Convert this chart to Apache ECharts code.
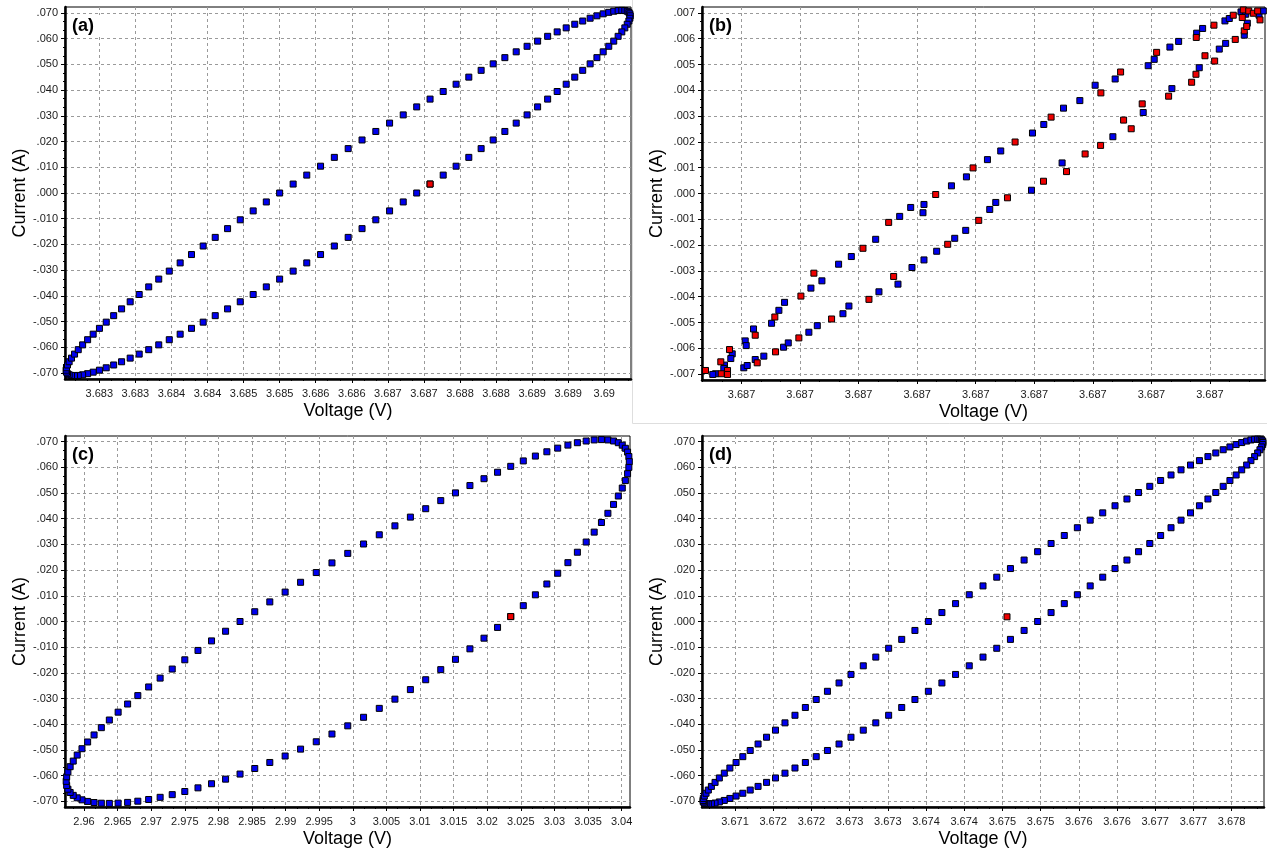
<!DOCTYPE html>
<html>
<head>
<meta charset="utf-8">
<script src="https://cdn.jsdelivr.net/npm/echarts@6/dist/echarts.min.js"></script>
<style>
  html, body { margin: 0; padding: 0; background: #fff; }
  #chart { width: 1267px; height: 852px; }
</style>
</head>
<body>
<div id="chart"></div>
<script>
// ---- tick values and their printed labels ----
const voltageTicksA = [3.6828, 3.6833, 3.6838, 3.6843, 3.6848, 3.6853, 3.6858, 3.6863, 3.6868, 3.6873, 3.6878, 3.6883, 3.6888, 3.6893, 3.6898];
const voltageLabelsA = ['3.683', '3.683', '3.684', '3.684', '3.685', '3.685', '3.686', '3.686', '3.687', '3.687', '3.688', '3.688', '3.689', '3.689', '3.69'];
const voltageTicksB = [3.68701, 3.68702, 3.68703, 3.68704, 3.68705, 3.68706, 3.68707, 3.68708, 3.68709];
const voltageLabelsB = ['3.687', '3.687', '3.687', '3.687', '3.687', '3.687', '3.687', '3.687', '3.687'];
const voltageTicksC = [2.96, 2.965, 2.97, 2.975, 2.98, 2.985, 2.99, 2.995, 3, 3.005, 3.01, 3.015, 3.02, 3.025, 3.03, 3.035, 3.04];
const voltageLabelsC = ['2.96', '2.965', '2.97', '2.975', '2.98', '2.985', '2.99', '2.995', '3', '3.005', '3.01', '3.015', '3.02', '3.025', '3.03', '3.035', '3.04'];
const voltageTicksD = [3.671, 3.6715, 3.672, 3.6725, 3.673, 3.6735, 3.674, 3.6745, 3.675, 3.6755, 3.676, 3.6765, 3.677, 3.6775];
const voltageLabelsD = ['3.671', '3.672', '3.672', '3.673', '3.673', '3.674', '3.674', '3.675', '3.675', '3.676', '3.676', '3.677', '3.677', '3.678'];
const currentTicks = [0.07, 0.06, 0.05, 0.04, 0.03, 0.02, 0.01, 0, -0.01, -0.02, -0.03, -0.04, -0.05, -0.06, -0.07];
const currentLabels = ['.070', '.060', '.050', '.040', '.030', '.020', '.010', '.000', '-.010', '-.020', '-.030', '-.040', '-.050', '-.060', '-.070'];
const currentTicksB = [0.007, 0.006, 0.005, 0.004, 0.003, 0.002, 0.001, 0, -0.001, -0.002, -0.003, -0.004, -0.005, -0.006, -0.007];
const currentLabelsB = ['.007', '.006', '.005', '.004', '.003', '.002', '.001', '.000', '-.001', '-.002', '-.003', '-.004', '-.005', '-.006', '-.007'];

// ---- (a) ----
const aVoltage = [
  3.686250, 3.686442, 3.686633, 3.686824, 3.687013, 3.687200, 3.687385, 3.687567, 3.687746, 3.687922,
  3.688093, 3.688260, 3.688422, 3.688579, 3.688730, 3.688876, 3.689015, 3.689147, 3.689272, 3.689391,
  3.689501, 3.689604, 3.689698, 3.689785, 3.689862, 3.689931, 3.689992, 3.690043, 3.690085, 3.690118,
  3.690141, 3.690155, 3.690160, 3.690155, 3.690141, 3.690118, 3.690085, 3.690043, 3.689992, 3.689931,
  3.689862, 3.689785, 3.689698, 3.689604, 3.689501, 3.689391, 3.689272, 3.689147, 3.689015, 3.688876,
  3.688730, 3.688579, 3.688422, 3.688260, 3.688093, 3.687922, 3.687746, 3.687567, 3.687385, 3.687200,
  3.687013, 3.686824, 3.686633, 3.686442, 3.686250, 3.686058, 3.685867, 3.685676, 3.685487, 3.685300,
  3.685115, 3.684933, 3.684754, 3.684578, 3.684407, 3.684240, 3.684078, 3.683921, 3.683770, 3.683624,
  3.683485, 3.683353, 3.683228, 3.683109, 3.682999, 3.682896, 3.682802, 3.682715, 3.682638, 3.682569,
  3.682508, 3.682457, 3.682415, 3.682382, 3.682359, 3.682345, 3.682340, 3.682345, 3.682359, 3.682382,
  3.682415, 3.682457, 3.682508, 3.682569, 3.682638, 3.682715, 3.682802, 3.682896, 3.682999, 3.683109,
  3.683228, 3.683353, 3.683485, 3.683624, 3.683770, 3.683921, 3.684078, 3.684240, 3.684407, 3.684578,
  3.684754, 3.684933, 3.685115, 3.685300, 3.685487, 3.685676, 3.685867, 3.686058
];
const aCurrent = [
  0.01725, 0.02061, 0.02392, 0.02717, 0.03036, 0.03347, 0.03650, 0.03945, 0.04229, 0.04504,
  0.04768, 0.05020, 0.05261, 0.05488, 0.05703, 0.05903, 0.06090, 0.06262, 0.06418, 0.06560,
  0.06685, 0.06794, 0.06887, 0.06964, 0.07023, 0.07066, 0.07091, 0.07100, 0.07091, 0.07066,
  0.07023, 0.06964, 0.06887, 0.06794, 0.06685, 0.06560, 0.06418, 0.06262, 0.06090, 0.05903,
  0.05703, 0.05488, 0.05261, 0.05020, 0.04768, 0.04504, 0.04229, 0.03945, 0.03650, 0.03347,
  0.03036, 0.02717, 0.02392, 0.02061, 0.01725, 0.01385, 0.01042, 0.00696, 0.00348, 0,
  -0.00348, -0.00696, -0.01042, -0.01385, -0.01725, -0.02061, -0.02392, -0.02717, -0.03036, -0.03347,
  -0.03650, -0.03945, -0.04229, -0.04504, -0.04768, -0.05020, -0.05261, -0.05488, -0.05703, -0.05903,
  -0.06090, -0.06262, -0.06418, -0.06560, -0.06685, -0.06794, -0.06887, -0.06964, -0.07023, -0.07066,
  -0.07091, -0.07100, -0.07091, -0.07066, -0.07023, -0.06964, -0.06887, -0.06794, -0.06685, -0.06560,
  -0.06418, -0.06262, -0.06090, -0.05903, -0.05703, -0.05488, -0.05261, -0.05020, -0.04768, -0.04504,
  -0.04229, -0.03945, -0.03650, -0.03347, -0.03036, -0.02717, -0.02392, -0.02061, -0.01725, -0.01385,
  -0.01042, -0.00696, -0.00348, 0, 0.00348, 0.00696, 0.01042, 0.01385
];
const aStart = [[3.687385, 0.00348]];

// ---- (b) ----
const bBlue = [
  [3.68702875, -0.002444], [3.68702658, -0.002741], [3.68702373, -0.003386], [3.68702185, -0.003668],
  [3.68701735, -0.004220], [3.68701638, -0.004529], [3.68701513, -0.005031], [3.68701205, -0.005251],
  [3.68701063, -0.005714], [3.68701080, -0.005896], [3.68700841, -0.006216], [3.68700817, -0.006398],
  [3.68700709, -0.006653], [3.68700697, -0.006784], [3.68700556, -0.006988], [3.68700509, -0.007015],
  [3.68701039, -0.006757], [3.68701097, -0.006668], [3.68701234, -0.006436], [3.68701381, -0.006305],
  [3.68701718, -0.005958], [3.68701798, -0.005792], [3.68702150, -0.005378], [3.68702294, -0.005124],
  [3.68702732, -0.004660], [3.68702834, -0.004363], [3.68703347, -0.003811], [3.68703672, -0.003514],
  [3.68703911, -0.002869], [3.68704116, -0.002575], [3.68703291, -0.001776], [3.68703701, -0.000888],
  [3.68703889, -0.000541], [3.68704116, -0.000425], [3.68704099, -0.000745], [3.68704585, 0.000297],
  [3.68704333, -0.002239], [3.68704641, -0.001737], [3.68704829, -0.001429], [3.68705239, -0.000618],
  [3.68705342, -0.000347], [3.68705952, 0.000127], [3.68706475, 0.001185], [3.68707342, 0.002201],
  [3.68707860, 0.003139], [3.68708350, 0.004066], [3.68708817, 0.004876], [3.68709159, 0.005598],
  [3.68709268, 0.005819], [3.68709586, 0.006139], [3.68709638, 0.006602], [3.68704841, 0.000645],
  [3.68705200, 0.001313], [3.68705427, 0.001649], [3.68705969, 0.002344], [3.68706162, 0.002676],
  [3.68706499, 0.003309], [3.68706778, 0.003602], [3.68707039, 0.004197], [3.68707381, 0.004440],
  [3.68707945, 0.004954], [3.68708048, 0.005201], [3.68708316, 0.005676], [3.68708465, 0.005896],
  [3.68708773, 0.006216], [3.68708875, 0.006398], [3.68709256, 0.006691], [3.68709330, 0.006784],
  [3.68709530, 0.007039], [3.68709610, 0.006950], [3.68709838, 0.006911], [3.68709911, 0.007077]
];
const bRed = [
  [3.68703074, -0.002124], [3.68702236, -0.003089], [3.68702014, -0.003977], [3.68701569, -0.004788],
  [3.68701234, -0.005494], [3.68700795, -0.006050], [3.68700646, -0.006525], [3.68700761, -0.006861],
  [3.68700653, -0.006988], [3.68700761, -0.007015], [3.68700385, -0.006861], [3.68701268, -0.006564],
  [3.68701581, -0.006139], [3.68701979, -0.005598], [3.68702538, -0.004865], [3.68703176, -0.004104],
  [3.68703598, -0.003216], [3.68703513, -0.001120], [3.68704316, -0.000039], [3.68704521, -0.001969],
  [3.68705051, -0.001042], [3.68705542, -0.000166], [3.68706157, 0.000475], [3.68706550, 0.000849],
  [3.68706868, 0.001533], [3.68707132, 0.001865], [3.68707655, 0.002510], [3.68707525, 0.002846],
  [3.68707843, 0.003475], [3.68708294, 0.003772], [3.68708687, 0.004313], [3.68708761, 0.004622],
  [3.68709080, 0.005135], [3.68708915, 0.005340], [3.68709432, 0.005973], [3.68709586, 0.006305],
  [3.68709627, 0.006475], [3.68709855, 0.006730], [3.68704954, 0.000992], [3.68705672, 0.001996],
  [3.68706287, 0.002961], [3.68707137, 0.003900], [3.68707474, 0.004710], [3.68708089, 0.005471],
  [3.68708766, 0.006050], [3.68709068, 0.006525], [3.68709398, 0.006911], [3.68709569, 0.007116],
  [3.68709552, 0.006822], [3.68709662, 0.007077], [3.68709740, 0.006988], [3.68709815, 0.007077]
];

// ---- (c) ----
const cVoltage = [
  2.99925, 3.00160, 3.00394, 3.00627, 3.00857, 3.01085, 3.01309, 3.01528, 3.01743, 3.01952,
  3.02154, 3.02350, 3.02537, 3.02717, 3.02888, 3.03049, 3.03201, 3.03342, 3.03473, 3.03592,
  3.03700, 3.03796, 3.03880, 3.03951, 3.04010, 3.04056, 3.04089, 3.04108, 3.04115, 3.04108,
  3.04089, 3.04056, 3.04010, 3.03951, 3.03880, 3.03796, 3.03700, 3.03592, 3.03473, 3.03342,
  3.03201, 3.03049, 3.02888, 3.02717, 3.02537, 3.02350, 3.02154, 3.01952, 3.01743, 3.01528,
  3.01309, 3.01085, 3.00857, 3.00627, 3.00394, 3.00160, 2.99925, 2.99690, 2.99456, 2.99223,
  2.98993, 2.98765, 2.98541, 2.98322, 2.98107, 2.97898, 2.97696, 2.97500, 2.97313, 2.97133,
  2.96962, 2.96801, 2.96649, 2.96508, 2.96377, 2.96258, 2.96150, 2.96054, 2.95970, 2.95899,
  2.95840, 2.95794, 2.95761, 2.95742, 2.95735, 2.95742, 2.95761, 2.95794, 2.95840, 2.95899,
  2.95970, 2.96054, 2.96150, 2.96258, 2.96377, 2.96508, 2.96649, 2.96801, 2.96962, 2.97133,
  2.97313, 2.97500, 2.97696, 2.97898, 2.98107, 2.98322, 2.98541, 2.98765, 2.98993, 2.99223,
  2.99456, 2.99690
];
const cCurrent = [
  0.02652, 0.03017, 0.03375, 0.03723, 0.04063, 0.04390, 0.04705, 0.05006, 0.05291, 0.05558,
  0.05809, 0.06039, 0.06250, 0.06439, 0.06606, 0.06748, 0.06866, 0.06959, 0.07025, 0.07067,
  0.07080, 0.07067, 0.07026, 0.06959, 0.06863, 0.06742, 0.06594, 0.06421, 0.06222, 0.05999,
  0.05753, 0.05484, 0.05194, 0.04884, 0.04557, 0.04212, 0.03853, 0.03479, 0.03093, 0.02696,
  0.02290, 0.01878, 0.01460, 0.01039, 0.00616, 0.00192, -0.00230, -0.00649, -0.01064, -0.01473,
  -0.01874, -0.02267, -0.02650, -0.03022, -0.03381, -0.03728, -0.04061, -0.04379, -0.04681, -0.04967,
  -0.05236, -0.05487, -0.05721, -0.05938, -0.06136, -0.06315, -0.06475, -0.06617, -0.06739, -0.06843,
  -0.06928, -0.06994, -0.07041, -0.07069, -0.07080, -0.07072, -0.07046, -0.07003, -0.06941, -0.06863,
  -0.06767, -0.06655, -0.06527, -0.06382, -0.06222, -0.06046, -0.05856, -0.05651, -0.05433, -0.05199,
  -0.04951, -0.04690, -0.04416, -0.04132, -0.03835, -0.03529, -0.03212, -0.02884, -0.02548, -0.02203,
  -0.01851, -0.01491, -0.01126, -0.00755, -0.00379, 0, 0.00380, 0.00763, 0.01145, 0.01526,
  0.01905, 0.02281
];
const cStart = [[3.02350, 0.00192]];

// ---- (d) ----
const dVoltage = [
  3.674246, 3.674426, 3.674605, 3.674784, 3.674961, 3.675137, 3.675310, 3.675481, 3.675649, 3.675813,
  3.675974, 3.676130, 3.676282, 3.676429, 3.676571, 3.676707, 3.676838, 3.676962, 3.677079, 3.677190,
  3.677293, 3.677390, 3.677478, 3.677559, 3.677632, 3.677697, 3.677753, 3.677801, 3.677841, 3.677871,
  3.677893, 3.677907, 3.677911, 3.677907, 3.677893, 3.677871, 3.677841, 3.677801, 3.677753, 3.677697,
  3.677632, 3.677559, 3.677478, 3.677390, 3.677293, 3.677190, 3.677079, 3.676962, 3.676838, 3.676707,
  3.676571, 3.676429, 3.676282, 3.676130, 3.675974, 3.675813, 3.675649, 3.675481, 3.675310, 3.675137,
  3.674961, 3.674784, 3.674605, 3.674426, 3.674246, 3.674066, 3.673887, 3.673708, 3.673531, 3.673355,
  3.673182, 3.673011, 3.672843, 3.672679, 3.672518, 3.672362, 3.672210, 3.672063, 3.671921, 3.671785,
  3.671654, 3.671530, 3.671413, 3.671302, 3.671199, 3.671102, 3.671014, 3.670933, 3.670860, 3.670795,
  3.670739, 3.670691, 3.670651, 3.670621, 3.670599, 3.670585, 3.670581, 3.670585, 3.670599, 3.670621,
  3.670651, 3.670691, 3.670739, 3.670795, 3.670860, 3.670933, 3.671014, 3.671102, 3.671199, 3.671302,
  3.671413, 3.671530, 3.671654, 3.671785, 3.671921, 3.672063, 3.672210, 3.672362, 3.672518, 3.672679,
  3.672843, 3.673011, 3.673182, 3.673355, 3.673531, 3.673708, 3.673887, 3.674066
];
const dCurrent = [
  0.01385, 0.01725, 0.02061, 0.02392, 0.02717, 0.03036, 0.03347, 0.03650, 0.03945, 0.04229,
  0.04504, 0.04768, 0.05020, 0.05261, 0.05488, 0.05703, 0.05903, 0.06090, 0.06262, 0.06418,
  0.06560, 0.06685, 0.06794, 0.06887, 0.06964, 0.07023, 0.07066, 0.07091, 0.07100, 0.07091,
  0.07066, 0.07023, 0.06964, 0.06887, 0.06794, 0.06685, 0.06560, 0.06418, 0.06262, 0.06090,
  0.05903, 0.05703, 0.05488, 0.05261, 0.05020, 0.04768, 0.04504, 0.04229, 0.03945, 0.03650,
  0.03347, 0.03036, 0.02717, 0.02392, 0.02061, 0.01725, 0.01385, 0.01042, 0.00696, 0.00348,
  0, -0.00348, -0.00696, -0.01042, -0.01385, -0.01725, -0.02061, -0.02392, -0.02717, -0.03036,
  -0.03347, -0.03650, -0.03945, -0.04229, -0.04504, -0.04768, -0.05020, -0.05261, -0.05488, -0.05703,
  -0.05903, -0.06090, -0.06262, -0.06418, -0.06560, -0.06685, -0.06794, -0.06887, -0.06964, -0.07023,
  -0.07066, -0.07091, -0.07100, -0.07091, -0.07066, -0.07023, -0.06964, -0.06887, -0.06794, -0.06685,
  -0.06560, -0.06418, -0.06262, -0.06090, -0.05903, -0.05703, -0.05488, -0.05261, -0.05020, -0.04768,
  -0.04504, -0.04229, -0.03945, -0.03650, -0.03347, -0.03036, -0.02717, -0.02392, -0.02061, -0.01725,
  -0.01385, -0.01042, -0.00696, -0.00348, 0, 0.00348, 0.00696, 0.01042
];
const dStart = [[3.67456, 0.00183]];

const FONT = '"Liberation Sans", Arial, sans-serif';

function pairs(xs, ys) {
  return xs.map((x, i) => [x, ys[i]]);
}

// nearest tick -> its printed label
function labeler(ticks, labels) {
  return function (value) {
    let best = 0;
    for (let i = 1; i < ticks.length; i++) {
      if (Math.abs(ticks[i] - value) < Math.abs(ticks[best] - value)) best = i;
    }
    return labels[best];
  };
}

function minorTicks(ticks, min, max) {
  const sorted = ticks.slice().sort((p, q) => p - q);
  const step = (sorted[1] - sorted[0]) / 3;
  const out = [];
  for (let v = sorted[0]; v > min; v -= step) out.push(v);
  for (let v = sorted[0] + step; v < max; v += step) out.push(v);
  return out;
}

const panels = [
  { tag: '(a)', left: 65, top: 7, width: 566, height: 372,
    xMin: 3.6823245, xMax: 3.6901704, xTicks: voltageTicksA, xLabels: voltageLabelsA,
    yMin: -0.0723, yMax: 0.0723, yTicks: currentTicks, yLabels: currentLabels,
    blue: pairs(aVoltage, aCurrent), red: aStart },
  { tag: '(b)', left: 702, top: 7, width: 563, height: 373,
    xMin: 3.68700325, xMax: 3.6870994, xTicks: voltageTicksB, xLabels: voltageLabelsB,
    yMin: -0.00723, yMax: 0.00723, yTicks: currentTicksB, yLabels: currentLabelsB,
    blue: bBlue, red: bRed },
  { tag: '(c)', left: 65, top: 436, width: 565, height: 371,
    xMin: 2.957173, xMax: 3.04125, xTicks: voltageTicksC, xLabels: voltageLabelsC,
    yMin: -0.0722, yMax: 0.0722, yTicks: currentTicks, yLabels: currentLabels,
    blue: pairs(cVoltage, cCurrent), red: cStart },
  { tag: '(d)', left: 702, top: 436, width: 562, height: 371,
    xMin: 3.670568, xMax: 3.677924, xTicks: voltageTicksD, xLabels: voltageLabelsD,
    yMin: -0.0722, yMax: 0.0722, yTicks: currentTicks, yLabels: currentLabels,
    blue: pairs(dVoltage, dCurrent), red: dStart }
];

const grid = [], xAxis = [], yAxis = [], series = [], graphic = [];

panels.forEach((p, i) => {
  grid.push({
    left: p.left, top: p.top, width: p.width, height: p.height,
    containLabel: false, outerBoundsMode: 'none',
    show: true, borderColor: '#000', borderWidth: 1, backgroundColor: 'transparent'
  });

  xAxis.push({
    gridIndex: i, type: 'value', position: 'bottom', min: p.xMin, max: p.xMax,
    name: 'Voltage (V)', nameLocation: 'middle', nameGap: 23,
    nameTextStyle: { fontSize: 18, color: '#000', fontFamily: FONT },
    axisLine: { show: true, onZero: false, lineStyle: { color: '#000', width: 2.5 } },
    axisTick: { show: true, inside: false, length: 4, customValues: p.xTicks, lineStyle: { color: '#000', width: 1 } },
    axisLabel: { show: true, customValues: p.xTicks, formatter: labeler(p.xTicks, p.xLabels),
      fontSize: 11, color: '#1a1a1a', margin: 9, fontFamily: FONT },
    splitLine: { show: true, lineStyle: { color: '#9a9a9a', width: 1, type: [3, 3] } }
  });
  xAxis.push({
    gridIndex: i, type: 'value', position: 'bottom', min: p.xMin, max: p.xMax,
    axisLine: { show: false, onZero: false },
    axisTick: { show: true, inside: false, length: 2, customValues: minorTicks(p.xTicks, p.xMin, p.xMax), lineStyle: { color: '#000', width: 1 } },
    axisLabel: { show: false },
    splitLine: { show: false }
  });

  yAxis.push({
    gridIndex: i, type: 'value', position: 'left', min: p.yMin, max: p.yMax,
    name: 'Current (A)', nameLocation: 'middle', nameGap: 36, nameRotate: 90,
    nameTextStyle: { fontSize: 18, color: '#000', fontFamily: FONT },
    axisLine: { show: true, onZero: false, lineStyle: { color: '#000', width: 2.5 } },
    axisTick: { show: true, inside: false, length: 4, customValues: p.yTicks, lineStyle: { color: '#000', width: 1 } },
    axisLabel: { show: true, customValues: p.yTicks, formatter: labeler(p.yTicks, p.yLabels),
      fontSize: 11, color: '#1a1a1a', margin: 7, fontFamily: FONT },
    splitLine: { show: true, lineStyle: { color: '#9a9a9a', width: 1, type: [3, 3] } }
  });
  yAxis.push({
    gridIndex: i, type: 'value', position: 'left', min: p.yMin, max: p.yMax,
    axisLine: { show: false, onZero: false },
    axisTick: { show: true, inside: false, length: 2, customValues: minorTicks(p.yTicks, p.yMin, p.yMax), lineStyle: { color: '#000', width: 1 } },
    axisLabel: { show: false },
    splitLine: { show: false }
  });

  series.push({
    type: 'scatter', xAxisIndex: 2 * i, yAxisIndex: 2 * i, data: p.blue,
    symbol: 'rect', symbolSize: 6, silent: true,
    itemStyle: { color: '#0000ee', borderColor: '#000', borderWidth: 1, opacity: 1 }
  });
  series.push({
    type: 'scatter', xAxisIndex: 2 * i, yAxisIndex: 2 * i, data: p.red,
    symbol: 'rect', symbolSize: 6, silent: true, z: 3,
    itemStyle: { color: '#ee0000', borderColor: '#000', borderWidth: 1, opacity: 1 }
  });

  graphic.push({
    type: 'rect', z: 100,
    shape: { x: p.left + 2, y: p.top + 8, width: 34, height: 22 },
    style: { fill: '#fff' }
  });
  graphic.push({
    type: 'text', z: 101, x: p.left + 7, y: p.top + 19,
    style: { text: p.tag, fill: '#000', font: 'bold 18px ' + FONT, verticalAlign: 'middle', align: 'left' }
  });
});

// faint frame around the right-hand panels
graphic.push({ type: 'line', z: 0, shape: { x1: 632.5, y1: 0, x2: 632.5, y2: 423.5 }, style: { stroke: '#dedede', lineWidth: 1 } });
graphic.push({ type: 'line', z: 0, shape: { x1: 632.5, y1: 423.5, x2: 1267, y2: 423.5 }, style: { stroke: '#dedede', lineWidth: 1 } });

const chart = echarts.init(document.getElementById('chart'), null, { renderer: 'canvas' });
chart.setOption({
  animation: false,
  backgroundColor: '#fff',
  grid: grid,
  xAxis: xAxis,
  yAxis: yAxis,
  series: series,
  graphic: graphic
});
</script>
</body>
</html>
